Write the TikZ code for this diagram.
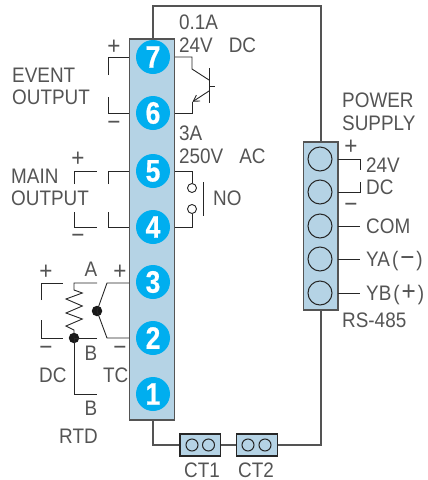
\documentclass[tikz,border=0pt]{standalone}
\usepackage{fontspec}
\setmainfont[FakeStretch=0.9]{Liberation Sans}
\newfontfamily\digitfont[FakeStretch=0.85,FakeBold=0.6]{Liberation Sans Bold}
\usetikzlibrary{arrows.meta}
\definecolor{stripblue}{HTML}{B5D3E5}
\definecolor{numblue}{HTML}{00AEEF}
\definecolor{inkgray}{gray}{0.33}
\definecolor{wire}{gray}{0.15}
\tikzset{
  strip/.style={draw=inkgray,line width=1.3pt,fill=stripblue},
  num/.style={circle,fill=numblue,minimum size=34pt,inner sep=0pt,text=white,font=\fontsize{31}{31}\selectfont\digitfont},
  screw/.style={circle,draw=wire,line width=1pt,minimum size=24pt,inner sep=0pt},
  ctscrew/.style={circle,draw=wire,line width=1pt,minimum size=12pt,inner sep=0pt},
  contact/.style={circle,draw=wire,line width=0.9pt,minimum size=9pt,inner sep=0pt},
  jdot/.style={circle,fill=black!90,minimum size=10.5pt,inner sep=0pt},
  lab/.style={inner sep=0pt,anchor=base west,text=inkgray,font=\fontsize{21}{21}\selectfont},
  clab/.style={lab,anchor=base},
  sign/.style={clab,font=\fontsize{25}{25}\selectfont},
  wr/.style={draw=wire,line width=0.9pt},
  frame/.style={draw=inkgray,line width=1.3pt},
}
\begin{document}
\begin{tikzpicture}[x=1pt,y=-1pt]
\path[use as bounding box] (0,0) rectangle (428,480);
% frame loop
\coordinate (tl) at (153,6);
\coordinate (tr) at (321,6);
\coordinate (br) at (321,445);
\coordinate (bl) at (153,445);
\node[strip,minimum width=45pt,minimum height=381pt,inner sep=0pt] (bar) at (152,229.5) {};
\node[strip,minimum width=34.5pt,minimum height=168pt,inner sep=0pt] (ps) at (320.75,226) {};
\node[strip,minimum width=40.5pt,minimum height=22pt,inner sep=0pt,draw=wire] (ct1) at (200.2,445) {};
\node[strip,minimum width=40.5pt,minimum height=22pt,inner sep=0pt,draw=wire] (ct2) at (257,445) {};
\draw[frame] (153,39) -- (tl) -- (tr) -- (321,142);
\draw[frame] (321,310) -- (br) -- (ct2.east);
\draw[frame] (ct2.west) -- (ct1.east);
\draw[frame] (ct1.west) -- (bl) -- (153,420);
% terminals
\foreach \n/\y in {7/57,6/113,5/171,4/227,3/282,2/338,1/394}
  \node[num] (t\n) at (153,\y) {\n};
\foreach \n/\y in {1/159,2/192,3/226,4/259,5/293}
  \node[screw] (s\n) at (320,\y) {};
\node[ctscrew] at (192,445) {};
\node[ctscrew] at (208.5,445) {};
\node[ctscrew] at (248,445) {};
\node[ctscrew] at (265,445) {};
% transistor
\draw[wr] (175,57) -- (192,57) -- (192,69) -- (209,80);
\draw[wr] (209,68) -- (209,103);
\draw[wr] (209,86) -- (215,86);
\draw[wr,-{Straight Barb[length=6pt,width=7pt]}] (209,91) -- (192.5,101.8);
\draw[wr] (192,102) -- (192,113) -- (175,113);
% relay
\node[contact] (ca) at (192,188) {};
\node[contact] (cb) at (192,209) {};
\draw[wr] (175,171) -- (192,171) -- (ca);
\draw[wr] (175,227) -- (192,227) -- (cb);
\draw[wr] (203.5,182) -- (203.5,216);
% left wires
\draw[wr] (108,75) -- (108,57) -- (129,57);
\draw[wr] (108,97) -- (108,113) -- (129,113);
\draw[wr] (108,184) -- (108,171) -- (129,171);
\draw[wr] (108,212) -- (108,227) -- (129,227);
\draw[wr] (74,184) -- (74,171) -- (97,171);
\draw[wr] (74,212) -- (74,227) -- (97,227);
% thermocouple
\node[jdot] (tc) at (97,311) {};
\draw[wr] (129,283) -- (107,283) -- (tc.center) -- (107,338) -- (129,338);
% RTD
\node[jdot] (rj) at (74,338) {};
\draw[wr] (97,283) -- (74,283) -- (74,290) -- (82.3,293) -- (66,299) -- (82.3,306) -- (66,313) -- (82.3,319) -- (66,326) -- (74,330) -- (rj.center);
\draw[wr] (97,338) -- (rj.center) -- (74,394) -- (97,394);
\draw[wr] (41,300) -- (41,283) -- (63,283);
\draw[wr] (41,320) -- (41,338) -- (63,338);
% power wires
\draw[wr] (338,159) -- (360,159) -- (360,170);
\draw[wr] (338,192) -- (360,192) -- (360,182);
\draw[wr] (338,226) -- (360,226);
\draw[wr] (338,259) -- (360,259);
\draw[wr] (338,293) -- (360,293);
% labels
\node[lab] (a1) at (179,29) {0.1A};
\node[lab] (a2) at (179,52) {24V\hspace{16pt}DC};
\node[lab] (a3) at (179,140) {3A};
\node[lab] (a4) at (179,163) {250V\hspace{16pt}AC};
\node[lab] (a5) at (213,205) {NO};
\node[lab] (b1) at (12,82) {EVENT};
\node[lab] (b2) at (12,104) {OUTPUT};
\node[lab] (b3) at (11,183) {MAIN};
\node[lab] (b4) at (11,205) {OUTPUT};
\node[lab] (c1) at (342,107) {POWER};
\node[lab] (c2) at (342,130) {SUPPLY};
\node[lab] (c3) at (366,172) {24V};
\node[lab] (c4) at (366,194) {DC};
\node[lab] (c5) at (366,233) {COM};
\node[lab] (c6) at (366,266) {YA\hspace{2pt}(\hspace{2pt}{\fontsize{27}{27}\selectfont −}\hspace{2pt})};
\node[lab] (c7) at (366,300) {YB\hspace{2pt}(\hspace{2pt}{\fontsize{27}{27}\selectfont +}\hspace{2pt})};
\node[lab] (c8) at (342,327) {RS-485};
\node[lab] (d1) at (39,382) {DC};
\node[lab] (d2) at (103,382) {TC};
\node[lab] (d3) at (59,443) {RTD};
\node[clab] (e1) at (91,276) {A};
\node[clab] (e2) at (91,360) {B};
\node[clab] (e3) at (91,415) {B};
\node[clab] (f1) at (202,477) {CT1};
\node[clab] (f2) at (256,477) {CT2};
\foreach \x/\y [count=\i] in {114/54,78/166,46/279,120/279,351/154}
  \node[sign] (p\i) at (\x,\y) {+};
\foreach \x/\y [count=\i] in {114/130,78/243,46/355,120/355,351/212}
  \node[sign] (m\i) at (\x,\y) {−};
\end{tikzpicture}
\end{document}
